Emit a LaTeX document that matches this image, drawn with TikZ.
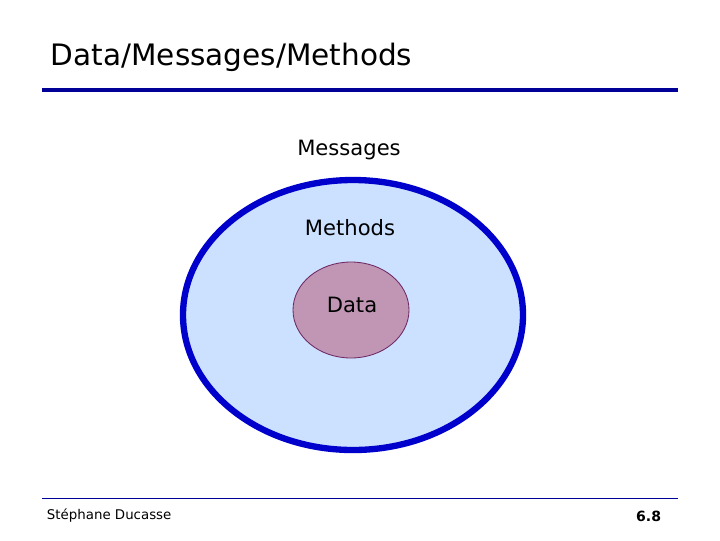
\documentclass[tikz,border=0pt]{standalone}
\usepackage{fontspec}
\setmainfont{DejaVu Sans}
\usepackage{tikz}
\definecolor{rule}{RGB}{0,0,153}
\definecolor{outerfill}{RGB}{204,224,255}
\definecolor{outerline}{RGB}{0,0,204}
\definecolor{innerfill}{RGB}{192,150,180}
\definecolor{innerline}{RGB}{110,40,100}
\begin{document}
\begin{tikzpicture}[x=0.025cm,y=-0.025cm,
                label text/.style={font=\fontsize{15}{18}\selectfont}]

            \useasboundingbox (0,0) rectangle (720,540);

            \node[anchor=west, font=\fontsize{21}{25}\selectfont] (title) at (46,57) {Data/Messages/Methods};
            \draw[rule, line width=2.2pt] (42,90) -- (678,90);

            \node[label text] (msg) at (349,150) {Messages};
            \draw[fill=outerfill, draw=outerline, line width=4.5pt] (353,315) ellipse [x radius=170, y radius=135];
            \node[label text] (meth) at (350,228) {Methods};
            \draw[fill=innerfill, draw=innerline, line width=0.6pt] (351,310) ellipse [x radius=58, y radius=48];
            \node[label text] (data) at (352,305) {Data};

            \draw[rule, line width=0.6pt] (42,498) -- (678,498);
            \node[anchor=west, font=\fontsize{9.5}{11}\selectfont] (author) at (42,516) {Stéphane Ducasse};
            \node[anchor=east, font=\bfseries\fontsize{10}{12}\selectfont] (page) at (666,516) {6.8};

        \end{tikzpicture}
\end{document}
